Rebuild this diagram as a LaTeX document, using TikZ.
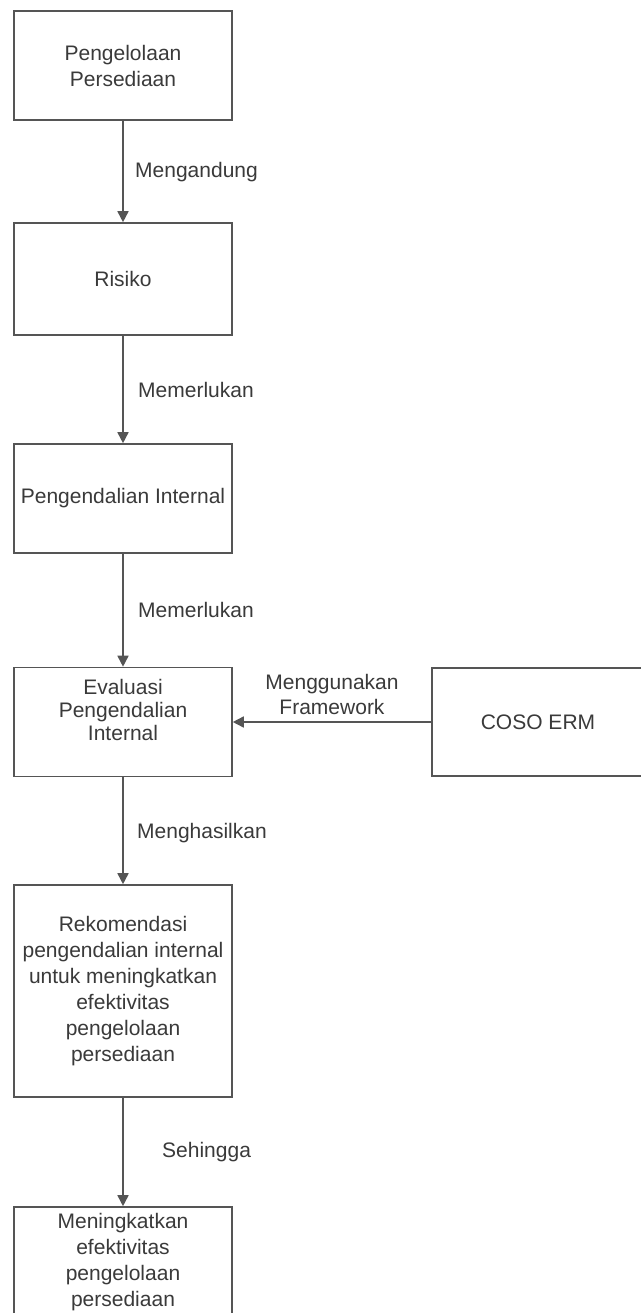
\documentclass[tikz,border=0pt]{standalone}
\usepackage{fontspec}
\setmainfont{Liberation Sans}
\usetikzlibrary{arrows.meta}
\definecolor{linegray}{HTML}{555555}
\definecolor{textgray}{HTML}{3A3A3A}
\tikzset{
  box/.style={draw=linegray, line width=1.6pt, fill=white, minimum width=218pt, inner sep=0pt, text=textgray, align=center, font=\fontsize{21}{26}\selectfont},
  txt/.style={text=textgray, align=center, inner sep=0pt, font=\fontsize{21}{26}\selectfont},
  lbl/.style={text=textgray, anchor=west, inner sep=0pt, font=\fontsize{21}{24}\selectfont},
  conn/.style={draw=linegray, line width=1.6pt, -{Triangle[width=11pt,length=11pt]}}
}
\begin{document}
\begin{tikzpicture}[x=1pt,y=-1pt]
\useasboundingbox (0,0) rectangle (640,1313);
\fill[white] (0,0) rectangle (640,1313);
\node[box, minimum height=109pt] (b1) at (123,65.5) {Pengelolaan\\Persediaan};
\node[box, minimum height=112pt] (b2) at (123,279) {Risiko};
\node[box, minimum height=109pt] (b3) at (123,498.5) {Pengendalian Internal};
\node[box, minimum height=109pt] (b4) at (123,722) {};
\node[txt, font=\fontsize{21}{23}\selectfont] (t4) at (123,710) {Evaluasi\\Pengendalian\\Internal};
\node[box, minimum width=212pt, minimum height=108pt] (coso) at (538,722) {COSO ERM};
\node[box, minimum height=212pt] (b5) at (123,991) {Rekomendasi\\pengendalian internal\\untuk meningkatkan\\efektivitas\\pengelolaan\\persediaan};
\node[box, minimum height=110pt] (b6) at (123,1262) {Meningkatkan\\efektivitas\\pengelolaan\\persediaan};
\draw[conn] (b1.south) -- (b2.north);
\draw[conn] (b2.south) -- (b3.north);
\draw[conn] (b3.south) -- (b4.north);
\draw[conn] (coso.west) -- (b4.east);
\draw[conn] (b4.south) -- (b5.north);
\draw[conn] (b5.south) -- (b6.north);
\node[lbl] (l1) at (135,172) {Mengandung};
\node[lbl] (l2) at (138,390) {Memerlukan};
\node[lbl] (l3) at (138,610) {Memerlukan};
\node[txt, font=\fontsize{21}{25}\selectfont] (l4) at (332,694) {Menggunakan\\Framework};
\node[lbl] (l5) at (137,833) {Menghasilkan};
\node[lbl] (l6) at (162,1152) {Sehingga};
\end{tikzpicture}
\end{document}
